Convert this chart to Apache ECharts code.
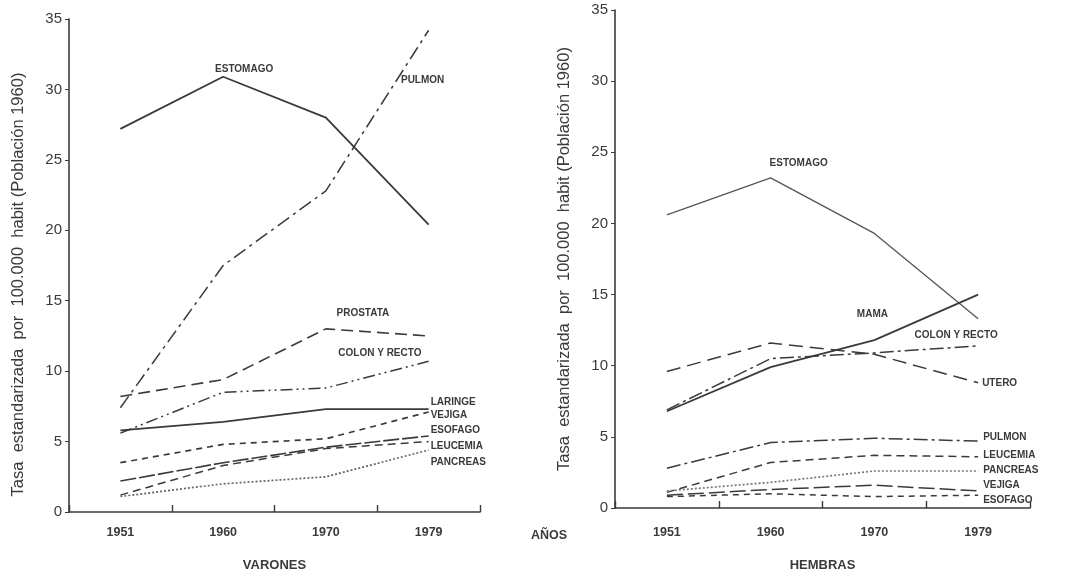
<!DOCTYPE html>
<html><head><meta charset="utf-8">
<script src="https://cdn.jsdelivr.net/npm/echarts@6/dist/echarts.min.js"></script>
<style>html,body{margin:0;padding:0;background:#fff}#c{width:1069px;height:577px}</style>
</head><body><div id="c"></div>
<script>
const years = ['1951', '1960', '1970', '1979'];
const yTicks = [0, 5, 10, 15, 20, 25, 30, 35];

// VARONES
const m_estomago = [27.2, 30.9, 28.0, 20.4];
const m_pulmon   = [7.4, 17.5, 22.8, 34.2];
const m_prostata = [8.2, 9.4, 13.0, 12.5];
const m_colon    = [5.6, 8.5, 8.8, 10.7];
const m_laringe  = [5.8, 6.4, 7.3, 7.3];
const m_vejiga   = [3.5, 4.8, 5.2, 7.1];
const m_esofago  = [2.2, 3.5, 4.6, 5.4];
const m_leucemia = [1.2, 3.3, 4.5, 5.0];
const m_pancreas = [1.1, 2.0, 2.5, 4.4];

// HEMBRAS
const f_estomago = [20.6, 23.2, 19.3, 13.3];
const f_mama     = [6.8, 9.9, 11.8, 15.0];
const f_colon    = [6.9, 10.5, 10.9, 11.4];
const f_utero    = [9.6, 11.6, 10.8, 8.8];
const f_pulmon   = [2.8, 4.6, 4.9, 4.7];
const f_leucemia = [1.1, 3.2, 3.7, 3.6];
const f_pancreas = [1.2, 1.8, 2.6, 2.6];
const f_vejiga   = [0.9, 1.3, 1.6, 1.2];
const f_esofago  = [0.8, 1.0, 0.8, 0.9];

const INK = '#3a3a3a';
const FONT = 'Liberation Sans';
const labStyle = {color: INK, fontSize: 10, fontWeight: 'bold', fontFamily: FONT, position: 'inside'};

function withLabel(arr, idx, text, offset, align) {
  return arr.map((v, i) => i === idx ? {
    value: v,
    label: Object.assign({}, labStyle, {show: true, formatter: text, offset: offset, align: align || 'center'})
  } : v);
}

function line(name, grid, data, type, width, color) {
  return {
    name: name, type: 'line', xAxisIndex: grid, yAxisIndex: grid,
    data: data, symbol: 'circle', symbolSize: 0, showSymbol: true,
    lineStyle: {color: color || INK, width: width || 1.6, type: type},
    itemStyle: {color: color || INK},
    label: {show: false}, silent: true, animation: false, z: 3
  };
}

const chart = echarts.init(document.getElementById('c'), null, {renderer: 'canvas'});

function xAx(grid, name, gap, margin) {
  return {
    type: 'category', gridIndex: grid, data: years, boundaryGap: true,
    name: name, nameLocation: 'middle', nameGap: gap,
    nameTextStyle: {color: INK, fontSize: 13, fontWeight: 'bold', fontFamily: FONT},
    axisLine: {lineStyle: {color: INK, width: 1.6}},
    axisTick: {show: true, inside: true, length: 7, lineStyle: {color: INK, width: 1.4}},
    axisLabel: {color: INK, fontSize: 12.5, fontWeight: 'bold', fontFamily: FONT, margin: margin}
  };
}
function yAx(grid, pad) {
  return {
    type: 'value', gridIndex: grid, min: 0, max: 35, interval: 5,
    name: 'Tasa  estandarizada  por  100.000  habit (Población 1960)',
    nameLocation: 'middle', nameGap: 42, nameRotate: 90,
    nameTextStyle: {color: INK, fontSize: 16.5, fontFamily: FONT, padding: pad},
    axisLine: {show: true, lineStyle: {color: INK, width: 1.6}},
    axisTick: {show: true, length: 4, lineStyle: {color: INK}},
    splitLine: {show: false},
    axisLabel: {color: INK, fontSize: 15, fontFamily: FONT, margin: 7,
      formatter: v => yTicks.indexOf(v) >= 0 ? String(v) : ''}
  };
}

chart.setOption({
  backgroundColor: '#fff',
  animation: false,
  title: {text: 'AÑOS', left: 526, top: 524, textStyle: {color: INK, fontSize: 12.5, fontWeight: 'bold', fontFamily: FONT}},
  grid: [
    {left: 69, top: 19, width: 411, height: 493},
    {left: 615, top: 10, width: 415, height: 498}
  ],
  xAxis: [xAx(0, 'VARONES', 47, 14), xAx(1, 'HEMBRAS', 51, 18)],
  yAxis: [yAx(0, [0, 38, 0, 0]), yAx(1, [0, 0, 0, 0])],
  series: [
    line('ESTOMAGO', 0, withLabel(m_estomago, 1, 'ESTOMAGO', [21, -8]), 'solid', 1.8),
    line('PULMON', 0, withLabel(m_pulmon, 3, 'PULMON', [-6, 50]), [14, 5, 3, 5], 1.5),
    line('PROSTATA', 0, withLabel(m_prostata, 2, 'PROSTATA', [37, -16]), [12, 6], 1.6),
    line('COLON Y RECTO', 0, withLabel(m_colon, 2, 'COLON Y RECTO', [54, -35]), [12, 4, 2, 4, 2, 4], 1.5),
    line('LARINGE', 0, withLabel(m_laringe, 3, 'LARINGE', [2, -7], 'left'), 'solid', 1.7),
    line('VEJIGA', 0, withLabel(m_vejiga, 3, 'VEJIGA', [2, 3], 'left'), [6, 5], 1.7),
    line('ESOFAGO', 0, withLabel(m_esofago, 3, 'ESOFAGO', [2, -6], 'left'), [16, 3], 1.6),
    line('LEUCEMIA', 0, withLabel(m_leucemia, 3, 'LEUCEMIA', [2, 5], 'left'), [8, 5], 1.5),
    line('PANCREAS', 0, withLabel(m_pancreas, 3, 'PANCREAS', [2, 12], 'left'), [2, 2], 1.7, '#666'),

    line('ESTOMAGO', 1, withLabel(f_estomago, 1, 'ESTOMAGO', [28, -15]), 'solid', 1.3, '#555'),
    line('MAMA', 1, withLabel(f_mama, 2, 'MAMA', [-2, -26]), 'solid', 1.8),
    line('COLON Y RECTO', 1, withLabel(f_colon, 3, 'COLON Y RECTO', [-22, -11]), [14, 4, 3, 4], 1.5),
    line('UTERO', 1, withLabel(f_utero, 3, 'UTERO', [4, 0], 'left'), [14, 7], 1.5),
    line('PULMON', 1, withLabel(f_pulmon, 3, 'PULMON', [5, -4], 'left'), [14, 4, 3, 4], 1.5),
    line('LEUCEMIA', 1, withLabel(f_leucemia, 3, 'LEUCEMIA', [5, -2], 'left'), [8, 5], 1.5),
    line('PANCREAS', 1, withLabel(f_pancreas, 3, 'PANCREAS', [5, -1], 'left'), [2, 2], 1.7, '#777'),
    line('VEJIGA', 1, withLabel(f_vejiga, 3, 'VEJIGA', [5, -6], 'left'), [16, 5], 1.5),
    line('ESOFAGO', 1, withLabel(f_esofago, 3, 'ESOFAGO', [5, 5], 'left'), [6, 5], 1.5)
  ]
});
</script></body></html>
